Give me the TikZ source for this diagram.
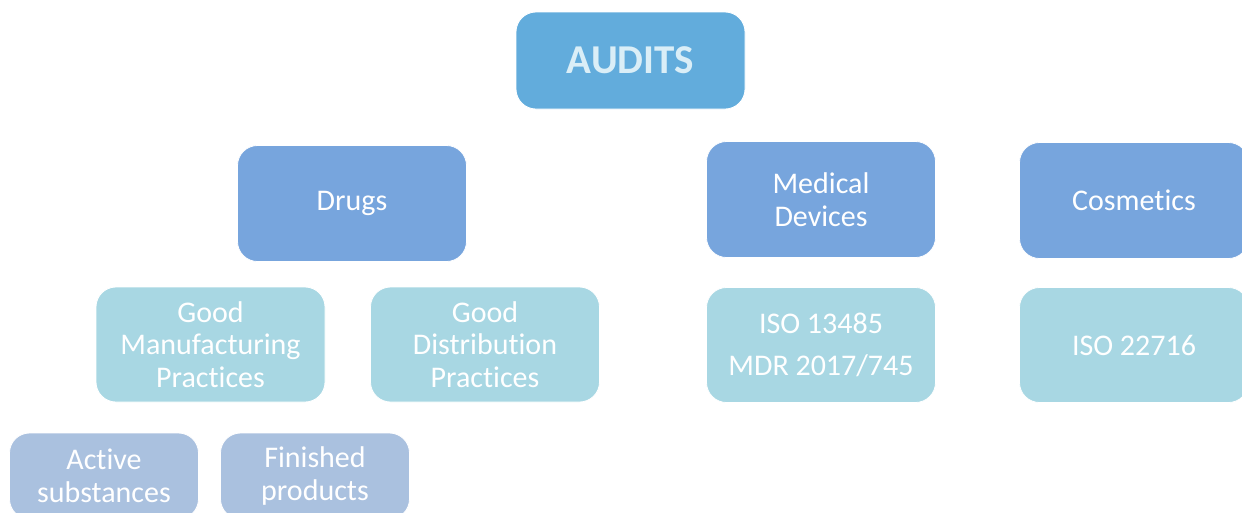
\documentclass[tikz,border=0pt]{standalone}
\usepackage{fontspec}
\setmainfont{Carlito}[Ligatures=NoCommon]
\definecolor{topc}{HTML}{62ACDC}
\definecolor{topt}{HTML}{DAEEF7}
\definecolor{lvtwo}{HTML}{77A5DD}
\definecolor{lvthree}{HTML}{A8D7E3}
\definecolor{lvfour}{HTML}{AAC1DF}
\tikzset{
  box/.style={rectangle, rounded corners=20pt, draw=white, line width=0.8pt, text=white, align=center,
    inner sep=0pt, font=\fontsize{30}{32.5}\selectfont},
  topbox/.style={box, fill=topc, text=topt, minimum width=229pt, minimum height=97pt, font=\fontsize{41}{44}\selectfont\bfseries},
  catbox/.style={box, fill=lvtwo, minimum width=229pt, minimum height=116pt},
  stdbox/.style={box, fill=lvthree, minimum width=229pt, minimum height=115pt},
  subbox/.style={box, fill=lvfour, minimum width=189pt, minimum height=86pt},
}
\begin{document}
\begin{tikzpicture}[x=1pt,y=-1pt]
\useasboundingbox (0,0) rectangle (1242,512);
\clip (0,0) rectangle (1242,512);
\node[topbox] (audits) at (630.5,60.5) {AUDITS};
\node[catbox] (drugs) at (352,203.5) {Drugs};
\node[catbox] (med) at (821,199.5) {Medical\\Devices};
\node[catbox] (cos) at (1134,200.5) {Cosmetics};
\node[stdbox] (gmp) at (210.5,344.5) {Good\\Manufacturing\\Practices};
\node[stdbox] (gdp) at (485,344.5) {Good\\Distribution\\Practices};
\node[stdbox, font=\fontsize{30}{42}\selectfont] (iso) at (821,345) {ISO 13485\\MDR 2017/745};
\node[stdbox] (iso2) at (1134,345) {ISO 22716};
\node[subbox] (act) at (104,476) {Active\\substances};
\node[subbox] (fin) at (315,476) {Finished\\products};
\end{tikzpicture}
\end{document}
